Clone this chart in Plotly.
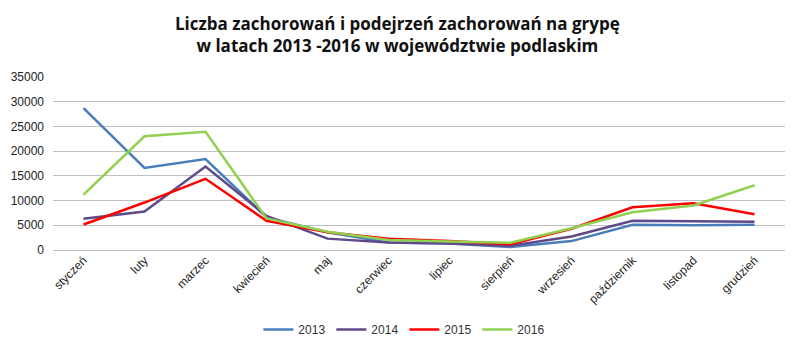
import plotly.graph_objects as go

months = ["styczeń", "luty", "marzec", "kwiecień", "maj", "czerwiec", "lipiec",
          "sierpień", "wrzesień", "październik", "listopad", "grudzień"]
y2013 = [28700, 16600, 18400, 6600, 3600, 1500, 1300, 600, 1800, 5100, 5000, 5100]
y2014 = [6300, 7800, 16900, 6900, 2300, 1500, 1300, 850, 2750, 5900, 5800, 5700]
y2015 = [5150, 9600, 14400, 5900, 3600, 2300, 1800, 1150, 4300, 8650, 9450, 7250]
y2016 = [11200, 23000, 23900, 6400, 3700, 2000, 1700, 1450, 4400, 7650, 9000, 13100]
years = ["2013", "2014", "2015", "2016"]
colors = ["#4a7ebb", "#5e4a8a", "#ff0000", "#92d050"]

fig = go.Figure()
for name, vals, c in zip(years, [y2013, y2014, y2015, y2016], colors):
    fig.add_trace(go.Scatter(x=months, y=vals, name=name, mode="lines",
                             line=dict(color=c, width=2.5)))

fig.add_annotation(
    text="<b>Liczba zachorowań i podejrzeń zachorowań na grypę<br>w latach 2013 -2016 w województwie podlaskim</b>",
    xref="paper", yref="paper", x=0.47, y=1.245, xanchor="center", yanchor="middle",
    showarrow=False, font=dict(family="Open Sans", size=17, color="#111111"))

fig.update_layout(
    width=800, height=352,
    paper_bgcolor="white", plot_bgcolor="white",
    margin=dict(l=53, r=15, t=77, b=102, autoexpand=False),
    font=dict(family="Liberation Sans Narrow, Liberation Sans", size=12, color="#333333"),
    showlegend=True,
    legend=dict(orientation="h", x=0.48, xanchor="center", y=-0.46, yanchor="middle",
                font=dict(size=12, color="#333333"), itemwidth=30,
                entrywidth=28, entrywidthmode="pixels"),
    xaxis=dict(tickangle=-45, showgrid=False, showline=False, ticks="",
               tickfont=dict(size=12, color="#222222"), range=[-0.5, 11.5], automargin=False),
    yaxis=dict(range=[0, 35000], dtick=5000, tickformat="d", showgrid=True, gridcolor="#c0c0c0",
               gridwidth=1, zeroline=True, zerolinecolor="#c0c0c0", zerolinewidth=1,
               ticks="", tickfont=dict(size=12, color="#222222"), ticklabelstandoff=8,
               automargin=False),
)
fig.write_html("out.html")
